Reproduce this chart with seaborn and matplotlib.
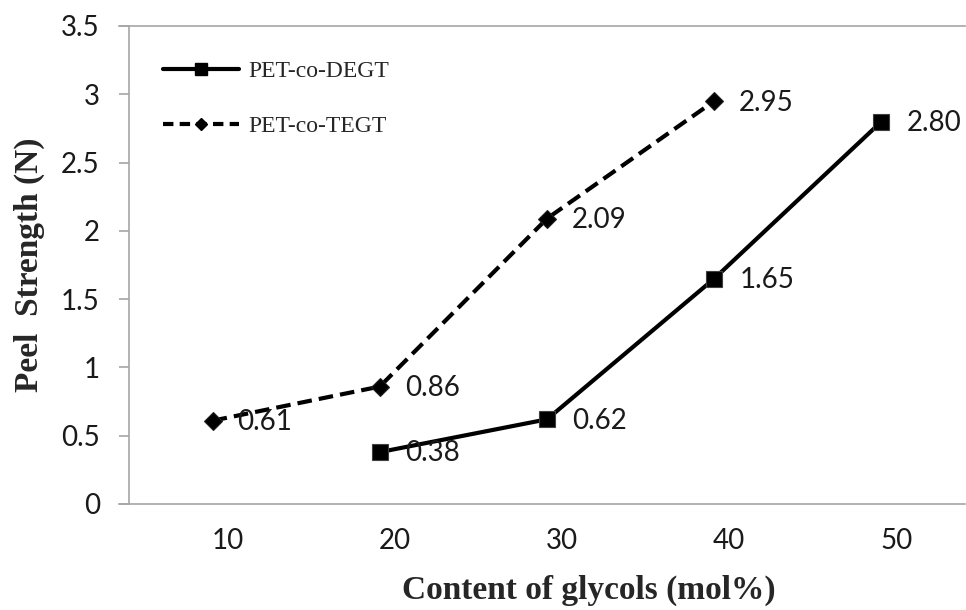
import matplotlib
matplotlib.use("Agg")
import matplotlib.pyplot as plt
import matplotlib.transforms as mtransforms
from matplotlib.lines import Line2D
import seaborn as sns
import pandas as pd

# ---- data ----
categories = [10, 20, 30, 40, 50]
degt_x = [20, 30, 40, 50]
degt_y = [0.38, 0.62, 1.65, 2.80]
tegt_x = [10, 20, 30, 40]
tegt_y = [0.61, 0.86, 2.09, 2.95]
series_names = ["PET-co-DEGT", "PET-co-TEGT"]
yticks = [0, 0.5, 1, 1.5, 2, 2.5, 3, 3.5]
xlabel = "Content of glycols (mol%)"
ylabel = "Peel  Strength (N)"

df = pd.concat([
    pd.DataFrame({"x": degt_x, "y": degt_y, "series": series_names[0]}),
    pd.DataFrame({"x": tegt_x, "y": tegt_y, "series": series_names[1]}),
])

sns.set_style("white")
plt.rcParams["font.family"] = ["Lato", "DejaVu Sans"]

fig = plt.figure(figsize=(9.66, 6.10), dpi=100)
ax = fig.add_axes([129/966, 106/610, 836/966, 478/610])

grey = "#a6a6a6"
sns.lineplot(data=df[df.series == series_names[0]], x="x", y="y", ax=ax,
             color="black", lw=3.0, marker="s", markersize=12,
             markeredgecolor="#404040", markeredgewidth=0.8)
sns.lineplot(data=df[df.series == series_names[1]], x="x", y="y", ax=ax,
             color="black", lw=3.0, marker="D", markersize=9.5,
             markeredgecolor="#202020", markeredgewidth=0.8,
             dashes=False, linestyle=(0, (3.5, 1.7)))

# data labels
for xs, ys in [(degt_x, degt_y), (tegt_x, tegt_y)]:
    for xv, yv in zip(xs, ys):
        ax.annotate(f"{yv:.2f}", (xv, yv),
                    xytext=(18, -1), textcoords="offset points",
                    ha="left", va="center", fontsize=20, color="#1a1a1a")

ax.set_xlim(5, 55)
ax.set_ylim(0, 3.5)
ax.set_xticks(categories)
ax.set_xticklabels([str(c) for c in categories])
ax.set_xticks([5], minor=True)
ax.set_yticks(yticks)
ax.set_yticklabels([f"{t:g}" for t in yticks])
ax.tick_params(axis="x", which="major", length=0, pad=17, labelsize=20, labelcolor="#1a1a1a")
ax.tick_params(axis="x", which="minor", length=6, width=1.2, color=grey, direction="out")
ax.tick_params(axis="y", length=7, width=1.2, color=grey, direction="out", pad=14,
               labelsize=20, labelcolor="#1a1a1a", left=True)

# x tick labels sit a little right of the category centres in the reference
lab_shift = mtransforms.ScaledTranslation(15/100, 0, fig.dpi_scale_trans)
for lab in ax.get_xticklabels():
    lab.set_transform(lab.get_transform() + lab_shift)

for side in ["left", "bottom", "top"]:
    ax.spines[side].set_visible(True)
    ax.spines[side].set_color(grey)
    ax.spines[side].set_linewidth(1.2)
ax.spines["right"].set_visible(False)
ax.spines["top"].set_bounds(5 - 10/16.72, 55)
ax.spines["bottom"].set_bounds(5 - 10/16.72, 55)

serif_bold = dict(family="Liberation Serif", fontweight="bold", fontsize=24)
fig.text(589/966, 1 - 590/610, xlabel, ha="center", va="center", **serif_bold)
fig.text(29/966, 1 - 265/610, ylabel, ha="center", va="center", rotation=90, **serif_bold)
ax.set_xlabel("")
ax.set_ylabel("")

handles = [
    Line2D([], [], color="black", lw=3.0, marker="s", markersize=9),
    Line2D([], [], color="black", lw=3.0, marker="D", markersize=6.5, linestyle=(0, (2.5, 1.5))),
]
ax.legend(handles, series_names, loc="upper left", bbox_to_anchor=(0.0407, 0.927),
          frameon=False, prop=dict(family="Liberation Serif", size=17),
          handlelength=3.2, handletextpad=0.4, labelspacing=1.42,
          borderpad=0, borderaxespad=0)

fig.savefig("out.png", dpi=100)
